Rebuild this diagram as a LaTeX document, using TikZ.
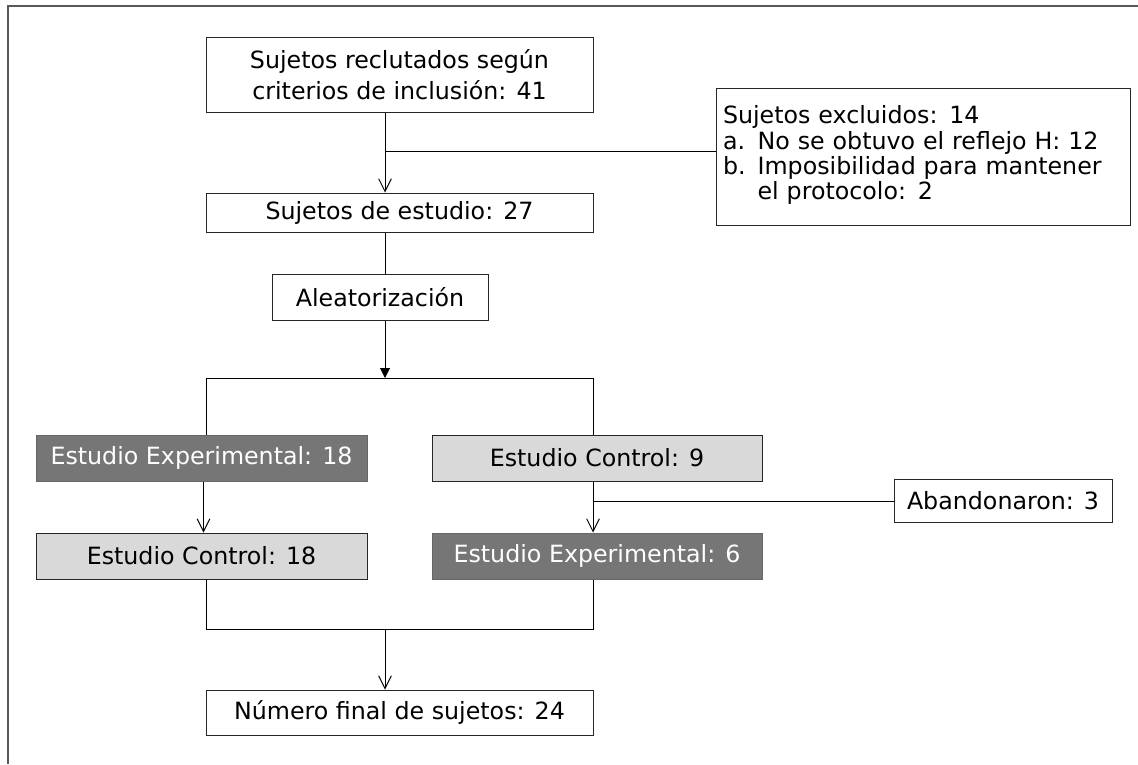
\documentclass[tikz,border=0pt]{standalone}
\usepackage{fontspec}
\setmainfont{DejaVu Sans}
\usepackage{tikz}
\usetikzlibrary{arrows.meta,positioning,shadows}

\definecolor{expgray}{HTML}{767676}
\definecolor{ctrlgray}{HTML}{D9D9D9}

\begin{document}
\begin{tikzpicture}[
  x=0.75pt, y=-0.75pt,
  box/.style={draw=black!85, line width=0.75pt, inner sep=0pt,
              align=center, font=\fontsize{17.8}{19.5}\selectfont},
  expbox/.style={box, fill=expgray, draw=black!60, text=white,
              drop shadow={shadow xshift=1pt, shadow yshift=-1pt,
              fill=black!60, opacity=1}},
  ctrlbox/.style={box, fill=ctrlgray,
              drop shadow={shadow xshift=1pt, shadow yshift=-1pt,
              fill=black!60, opacity=1}},
  arr/.style={-{Straight Barb[length=9.5pt,width=9.5pt]}, line width=0.75pt},
  arrfill/.style={-{Triangle[length=7.5pt,width=7.5pt]}, line width=0.75pt},
  con/.style={line width=0.75pt},
  frame/.style={draw=black!65, line width=1.5pt}
]
  \useasboundingbox (0,0) rectangle (1138,764);
  \draw[frame] (1138,6) -- (8,6) -- (8,764);

  \node[box, minimum width=290.25pt, minimum height=56.25pt] (reclut)
    at (399.5,74.5) {Sujetos reclutados según\\[3.5pt]criterios de inclusión: 41};
  \node[box, minimum width=290.25pt, minimum height=29.25pt] (estudio)
    at (399.5,212.5) {Sujetos de estudio: 27};
  \node[box, minimum width=162pt, minimum height=34.5pt] (aleat)
    at (380,297) {Aleatorización};
  \node[box, minimum width=310.5pt, minimum height=102.75pt, align=left,
        text width=300pt, inner xsep=5.25pt] (excl) at (923,156.5)
    {\def\arraystretch{0.93}%
     \begin{tabular}{@{}l@{\hspace{9pt}}l@{}}
       \multicolumn{2}{@{}l}{Sujetos excluidos: 14}\\
       a. & No se obtuvo el reflejo H: 12\\
       b. & Imposibilidad para mantener\\
          & el protocolo: 2
     \end{tabular}};

  \node[expbox, minimum width=248.25pt, minimum height=34.5pt] (expA)
    at (201.5,458) {Estudio Experimental: 18};
  \node[ctrlbox, minimum width=247.5pt, minimum height=34.5pt] (ctrlA)
    at (597,458) {Estudio Control: 9};
  \node[ctrlbox, minimum width=248.25pt, minimum height=34.5pt] (ctrlB)
    at (201.5,556) {Estudio Control: 18};
  \node[expbox, minimum width=247.5pt, minimum height=34.5pt] (expB)
    at (597,556) {Estudio Experimental: 6};
  \node[box, minimum width=163.5pt, minimum height=32.25pt] (aband)
    at (1003,500.5) {Abandonaron: 3};
  \node[box, minimum width=290.25pt, minimum height=33.75pt] (final)
    at (399.5,712.5) {Número final de sujetos: 24};

  % guide points for the connectors
  \coordinate (mid) at (385,0);
  \coordinate (brk) at (385,151);
  \coordinate (splitL) at (206,378);
  \coordinate (splitR) at (593,378);
  \coordinate (dropA) at (593,501);
  \coordinate (joinL) at (206,629);
  \coordinate (joinR) at (593,629);
  \coordinate (joinM) at (385,629);

  \draw[arr] (mid |- reclut.south) -- (mid |- estudio.north);
  \draw[con] (brk) -- (excl.west |- brk);
  \draw[con] (mid |- estudio.south) -- (mid |- aleat.north);
  \draw[arrfill] (mid |- aleat.south) -- (mid |- splitL);
  \draw[con] (expA.north -| splitL) -- (splitL) -- (splitR)
    -- (ctrlA.north -| splitR);
  \draw[arr] ([xshift=1.5pt]expA.south) -- ([xshift=1.5pt]ctrlB.north);
  \draw[arr] (ctrlA.south -| dropA) -- (expB.north -| dropA);
  \draw[con] (dropA) -- (aband.west |- dropA);
  \draw[con] (ctrlB.south -| joinL) -- (joinL) -- (joinR)
    -- (expB.south -| joinR);
  \draw[arr] (joinM) -- (final.north -| joinM);
\end{tikzpicture}
\end{document}
